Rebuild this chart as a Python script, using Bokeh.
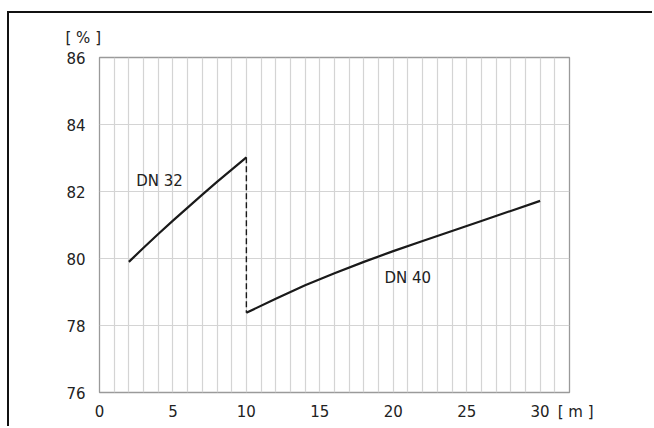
from bokeh.plotting import figure
from bokeh.models import (Range1d, SingleIntervalTicker, FixedTicker, Label, Title)
from bokeh.embed import file_html
from bokeh.resources import INLINE

# Data
dn32_x = [2, 3, 4, 5, 6, 7, 8, 9, 10]
dn32_y = [79.9, 80.32, 80.73, 81.13, 81.52, 81.905, 82.285, 82.655, 83.02]
dn40_x = [10, 12, 14, 16, 18, 20, 22, 24, 26, 28, 30]
dn40_y = [78.38, 78.8, 79.2, 79.56, 79.9, 80.22, 80.52, 80.82, 81.12, 81.42, 81.72]
x_ticks = [0, 5, 10, 15, 20, 25, 30]
y_ticks = [76, 78, 80, 82, 84, 86]
series_labels = ["DN 32", "DN 40"]
x_unit = "[ m ]"
y_unit = "[ % ]"

FONT = "DejaVu Sans"
TXT = "#222222"
FS = "15px"

p = figure(width=645, height=415, output_backend="svg", toolbar_location=None,
           x_range=Range1d(0, 32), y_range=Range1d(76, 86),
           min_border_left=90, min_border_right=85, min_border_top=44, min_border_bottom=36)
p.styles = {"margin-left": "7px", "margin-top": "11px",
            "border-left": "2px solid #111111", "border-top": "2px solid #111111"}
p.background_fill_color = "white"
p.border_fill_color = "white"
p.outline_line_color = "#9a9a9a"
p.outline_line_width = 1.3

# y unit as a left-aligned title above the frame
p.title = Title(text=y_unit, align="left", offset=-34, standoff=22,
                text_font=FONT, text_font_size=FS, text_font_style="normal",
                text_color=TXT)

# x unit shown as the label of an extra tick at the right edge of the frame
tick_pos = x_ticks + [32]
p.xaxis.ticker = FixedTicker(ticks=tick_pos)
p.xaxis.major_label_overrides = {32: "\u00a0\u2002" + x_unit}
p.yaxis.ticker = FixedTicker(ticks=y_ticks)
for ax in (p.xaxis[0], p.yaxis[0]):
    ax.axis_line_color = None
    ax.major_tick_line_color = None
    ax.minor_tick_line_color = None
    ax.major_label_text_font = FONT
    ax.major_label_text_font_size = FS
    ax.major_label_text_color = TXT
p.xaxis.major_label_standoff = 4
p.yaxis.major_label_standoff = 8

p.xgrid.ticker = SingleIntervalTicker(interval=1)
p.ygrid.ticker = FixedTicker(ticks=y_ticks)
p.xgrid.grid_line_color = "#d4d4d4"
p.ygrid.grid_line_color = "#d4d4d4"
p.xgrid.grid_line_width = 1.2
p.ygrid.grid_line_width = 1.2

# curves
p.line(dn32_x, dn32_y, line_color="#1a1a1a", line_width=2.2)
p.line(dn40_x, dn40_y, line_color="#1a1a1a", line_width=2.2)
p.line([dn32_x[-1], dn40_x[0]], [dn32_y[-1], dn40_y[0]], line_color="#1a1a1a",
       line_width=1.4, line_dash="6 3")

# series labels
p.add_layout(Label(x=2.5, y=82.31, text=series_labels[0], text_font=FONT,
                   text_font_size=FS, text_color=TXT, text_baseline="middle"))
p.add_layout(Label(x=19.4, y=79.41, text=series_labels[1], text_font=FONT,
                   text_font_size=FS, text_color=TXT, text_baseline="middle"))

open("out.html", "w").write(file_html(p, INLINE))
